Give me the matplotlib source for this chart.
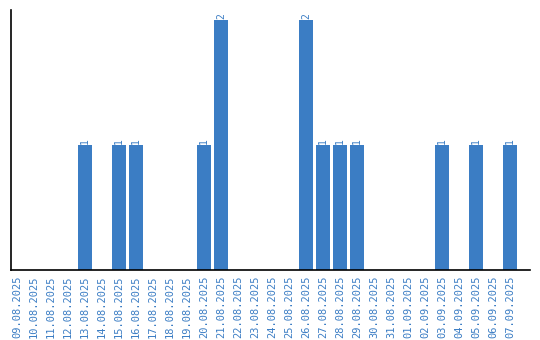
import matplotlib
matplotlib.use("Agg")
import matplotlib.pyplot as plt

dates = ["09.08.2025","10.08.2025","11.08.2025","12.08.2025","13.08.2025","14.08.2025",
         "15.08.2025","16.08.2025","17.08.2025","18.08.2025","19.08.2025","20.08.2025",
         "21.08.2025","22.08.2025","23.08.2025","24.08.2025","25.08.2025","26.08.2025",
         "27.08.2025","28.08.2025","29.08.2025","30.08.2025","31.08.2025","01.09.2025",
         "02.09.2025","03.09.2025","04.09.2025","05.09.2025","06.09.2025","07.09.2025"]
values = [0,0,0,0,1,0,1,1,0,0,0,1,2,0,0,0,0,2,1,1,1,0,0,0,0,1,0,1,0,1]

color = "#3b7dc4"
fig = plt.figure(figsize=(5.4, 3.4), dpi=100)
ax = fig.add_axes([11/540, 70/340, 519/540, 260/340])
x = list(range(len(dates)))
ax.bar(x, values, width=0.82, color=color)
for xi, v in zip(x, values):
    if v > 0:
        ax.text(xi, v + 0.01, str(v), rotation=90, ha="center", va="bottom",
                color=color, fontsize=7, family="DejaVu Sans Mono")
ax.set_xlim(-0.35, 30.18)
ax.set_ylim(0, 2.08)
ax.set_xticks(x)
ax.set_xticklabels(dates, rotation=90, color=color, fontsize=7.5, family="DejaVu Sans Mono")
ax.tick_params(axis="x", length=0, pad=4)
ax.set_yticks([])
for s in ["top", "right"]:
    ax.spines[s].set_visible(False)
ax.spines["left"].set_linewidth(1.2)
ax.spines["bottom"].set_linewidth(1.2)
fig.savefig("out.png", dpi=100)
